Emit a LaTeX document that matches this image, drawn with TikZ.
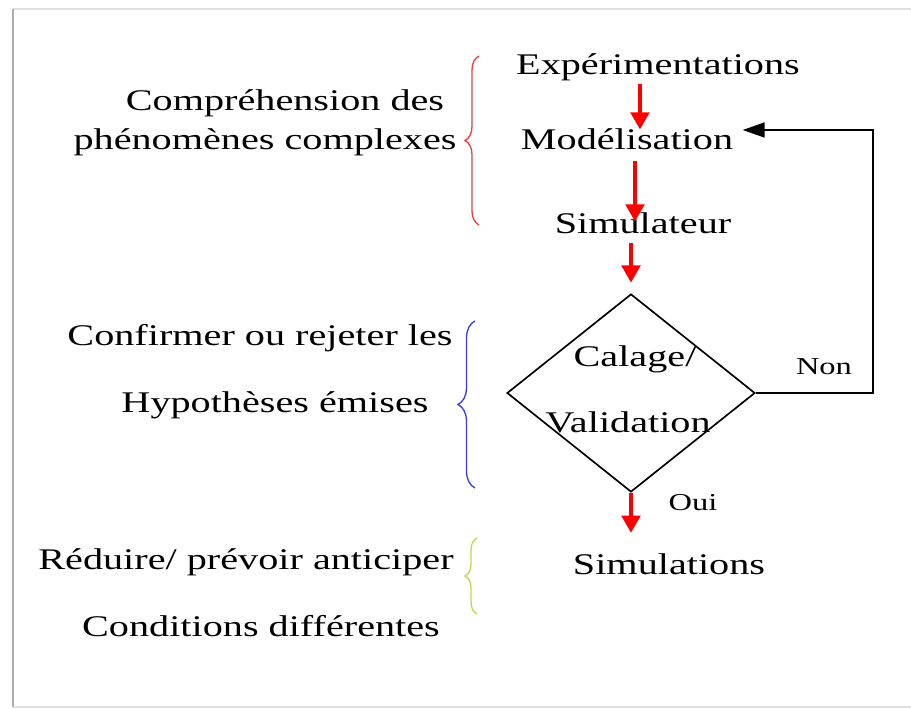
\documentclass[tikz,border=0pt]{standalone}
\usepackage{fontspec}
\setmainfont{Liberation Serif}
\usetikzlibrary{positioning,arrows.meta,shapes.geometric,decorations.pathreplacing}
\definecolor{bracered}{RGB}{240,60,60}
\definecolor{braceblue}{RGB}{60,60,230}
\definecolor{braceyellow}{RGB}{200,210,80}

\begin{document}
\begin{tikzpicture}[
  x=0.75pt, y=-0.75pt,
  txt/.style={anchor=base, inner sep=1pt, xscale=1.34,
              font=\fontsize{22.5}{27}\selectfont,
              text height=15.75pt, text depth=5.6pt},
  lbl/.style={anchor=base, inner sep=1pt, xscale=1.34,
              font=\fontsize{18.2}{22}\selectfont},
  flow/.style={-{Triangle[width=14pt, length=12.75pt]}, red, line width=2.4pt},
  back/.style={-{Triangle[width=11pt, length=16.5pt]}, line width=2pt},
  grp/.style={decorate, decoration={brace, amplitude=#1}, line width=1pt},
]
  \useasboundingbox (0,0) rectangle (911,709);

  % page frame
  \draw[gray!25, line width=1.5pt] (911,9) -- (13,9);
  \draw[gray!25, line width=1.5pt] (13,707) -- (911,707);
  \draw[gray!65, line width=2.2pt] (13,9) -- (13,707);

  % main chain
  \node[txt] (exp) at (658,75) {Expérimentations};
  \node[txt] (mod) at (627,150) {Modélisation};
  \node[txt] (sim) at (643,234) {Simulateur};
  \node[diamond, draw, line width=1.25pt, inner sep=0pt,
        minimum width=186pt, minimum height=148.5pt] (dia) at (631,393) {};
  \node[txt] (cal) at (635,367) {Calage/};
  \node[txt] (val) at (628,432) {Validation};
  \node[txt] (simus) at (669,574) {Simulations};
  \node[lbl] (non) at (824,375) {Non};
  \node[lbl] (oui) at (693,510) {Oui};

  \draw[flow, shorten >=-1.5pt] (exp.south -| 640,0) -- (mod.north -| 640,0);
  \draw[flow, shorten <=1.4pt, shorten >=-7.5pt] (mod.south -| 635,0) -- (sim.north -| 635,0);
  \draw[flow, shorten >=8pt] (sim.south -| dia.north) -- (dia.north);
  \draw[flow, shorten >=14pt] (dia.south) -- (simus.north -| dia.south);

  % loop back when not validated
  \coordinate (ret) at (873,130);
  \draw[back, shorten >=5.5pt] (dia.east) -| (ret) -- (ret -| mod.east);

  % left-hand comments
  \node[txt] (comp) at (285,111) {Compréhension des};
  \node[txt] (phen) at (265,150) {phénomènes complexes};
  \node[txt] (conf) at (260,346) {Confirmer ou rejeter les};
  \node[txt] (hyp) at (275,412) {Hypothèses émises};
  \node[txt] (redu) at (246,569) {Réduire/ prévoir anticiper};
  \node[txt] (cond) at (261,636) {Conditions différentes};

  % braces
  \draw[grp=10.5pt, bracered] (479,225) -- (479,56);
  \draw[grp=12.75pt, braceblue] (475,488) -- (475,321);
  \draw[grp=9pt, braceyellow] (477,614) -- (477,538);
\end{tikzpicture}
\end{document}
